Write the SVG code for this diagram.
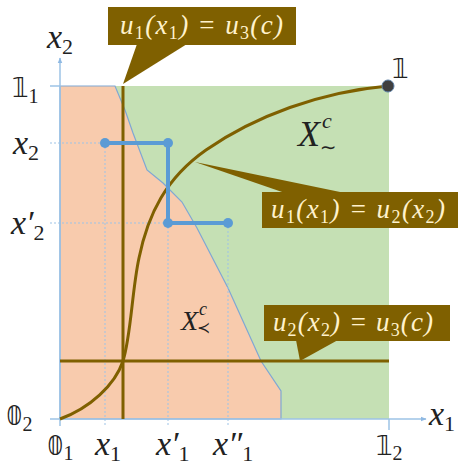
<svg xmlns="http://www.w3.org/2000/svg" width="468" height="468" viewBox="0 0 468 468">
<defs>
<marker id="ah" viewBox="0 0 10 10" refX="9" refY="5" markerWidth="6" markerHeight="6" orient="auto" markerUnits="userSpaceOnUse"><path d="M0,1 L10,5 L0,9 z" fill="#8FB9E3"/></marker>
<style>
.ax{stroke:#9DC3E6;stroke-width:1.5;fill:none}
.dot{stroke:#9DC3E6;stroke-width:1;stroke-dasharray:2 2;fill:none}
.br{stroke:#7F6000;stroke-width:3;fill:none}
.bl{stroke:#5B9BD5;stroke-width:4;fill:none}
.pt{fill:#5B9BD5}
.lbl{font-family:"Liberation Serif",serif;font-style:italic;fill:#222}
.ds{font-family:"DejaVu Sans",serif;fill:#222}
.sub{font-family:"Liberation Serif",serif;font-style:normal;fill:#222}
.cb{fill:#7F6000}
.ct{font-family:"Liberation Serif",serif;font-style:italic;font-size:27px;fill:#FFF2CC}
.cs{font-size:18px;font-style:normal}
</style>
</defs>
<rect width="468" height="468" fill="#fff"/>
<g id="regions">
<rect x="60" y="86" width="329" height="333" fill="#C5E0B4"/>
<polygon points="60,86 115,86 125,110 133,133 147,170 163,183 182,202 197,228 228,288 261,361 281,391 281,419 60,419" fill="#F8CBAD" stroke="#7FA7D4" stroke-width="1.2"/>
</g>
<g id="connectors">
<line class="dot" x1="50" y1="143" x2="105" y2="143"/>
<line class="dot" x1="50" y1="223" x2="168" y2="223"/>
<line class="dot" x1="105" y1="143" x2="105" y2="426"/>
<line class="dot" x1="168" y1="223" x2="168" y2="426"/>
<line class="dot" x1="228" y1="223" x2="228" y2="426"/>
<line class="ax" x1="60" y1="426" x2="60" y2="58" marker-end="url(#ah)"/>
<line class="ax" x1="50" y1="419" x2="426" y2="419" marker-end="url(#ah)"/>
<line class="ax" x1="50" y1="86" x2="60" y2="86"/>
<line class="ax" x1="389" y1="419" x2="389" y2="430"/>
<line class="br" x1="123" y1="86" x2="123" y2="419"/>
<line class="br" x1="60" y1="361" x2="389" y2="361"/>
<path class="br" d="M60,419 C90,408 115,385 123,361 C131,336 132,290 139,258 C148,214 166,178 206,150 C255,116 320,92 388,86"/>
<polyline class="bl" points="105,143 168,143 168,223 228,223"/>
</g>
<g id="points">
<circle class="pt" cx="105" cy="143" r="5"/>
<circle class="pt" cx="168" cy="143" r="5"/>
<circle class="pt" cx="168" cy="223" r="5"/>
<circle class="pt" cx="228" cy="223" r="5"/>
<circle cx="388" cy="86" r="6" fill="#404040" stroke="#5B7FA5" stroke-width="1"/>
</g>
<g id="callout1">
<rect class="cb" x="108" y="7" width="188" height="38"/>
<polygon class="cb" points="137,44 187,44 123,84"/>
<text class="ct" x="120" y="34" textLength="163" lengthAdjust="spacing">u<tspan class="cs" dy="5">1</tspan><tspan dy="-5">(x</tspan><tspan class="cs" dy="5">1</tspan><tspan dy="-5">) = u</tspan><tspan class="cs" dy="5">3</tspan><tspan dy="-5">(c)</tspan></text>
</g>
<g id="callout2">
<rect class="cb" x="262" y="192" width="196" height="36"/>
<polygon class="cb" points="195,162 345,193 285,193"/>
<text class="ct" x="271" y="218" textLength="174" lengthAdjust="spacing">u<tspan class="cs" dy="5">1</tspan><tspan dy="-5">(x</tspan><tspan class="cs" dy="5">1</tspan><tspan dy="-5">) = u</tspan><tspan class="cs" dy="5">2</tspan><tspan dy="-5">(x</tspan><tspan class="cs" dy="5">2</tspan><tspan dy="-5">)</tspan></text>
</g>
<g id="callout3">
<rect class="cb" x="264" y="305" width="186" height="36"/>
<polygon class="cb" points="296,340 338,340 300,361"/>
<text class="ct" x="273" y="331" textLength="160" lengthAdjust="spacing">u<tspan class="cs" dy="5">2</tspan><tspan dy="-5">(x</tspan><tspan class="cs" dy="5">2</tspan><tspan dy="-5">) = u</tspan><tspan class="cs" dy="5">3</tspan><tspan dy="-5">(c)</tspan></text>
</g>
<g id="labels">
<text class="lbl" x="47" y="48" font-size="34">x<tspan class="sub" font-size="22" dy="6">2</tspan></text>
<text class="ds" x="12" y="97" font-size="26">𝟙<tspan class="sub" font-size="20" dy="6">1</tspan></text>
<text class="lbl" x="13" y="154" font-size="34">x<tspan class="sub" font-size="22" dy="6">2</tspan></text>
<text class="lbl" x="11" y="234" font-size="34">x′<tspan class="sub" font-size="22" dy="6">2</tspan></text>
<text class="ds" x="6" y="425" font-size="26">𝟘<tspan class="sub" font-size="20" dy="6">2</tspan></text>
<text class="ds" x="47" y="455" font-size="26">𝟘<tspan class="sub" font-size="20" dy="5">1</tspan></text>
<text class="lbl" x="95" y="455" font-size="34">x<tspan class="sub" font-size="22" dy="6">1</tspan></text>
<text class="lbl" x="156" y="455" font-size="34">x′<tspan class="sub" font-size="22" dy="6">1</tspan></text>
<text class="lbl" x="213" y="455" font-size="34">x″<tspan class="sub" font-size="22" dy="6">1</tspan></text>
<text class="ds" x="376" y="455" font-size="26">𝟙<tspan class="sub" font-size="20" dy="5">2</tspan></text>
<text class="lbl" x="429" y="425" font-size="34">x<tspan class="sub" font-size="22" dy="6">1</tspan></text>
<text class="ds" x="392" y="78" font-size="26">𝟙</text>
<text class="lbl" x="298" y="146" font-size="36">X<tspan font-size="22" dx="2" dy="-18">c</tspan><tspan class="ds" font-style="normal" font-size="20" dx="-12" dy="26">∼</tspan></text>
<text class="lbl" x="181" y="330" font-size="28">X<tspan font-size="18" dx="1" dy="-15">c</tspan><tspan class="ds" font-style="normal" font-size="16" dx="-10" dy="18">≺</tspan></text>
</g>
</svg>
